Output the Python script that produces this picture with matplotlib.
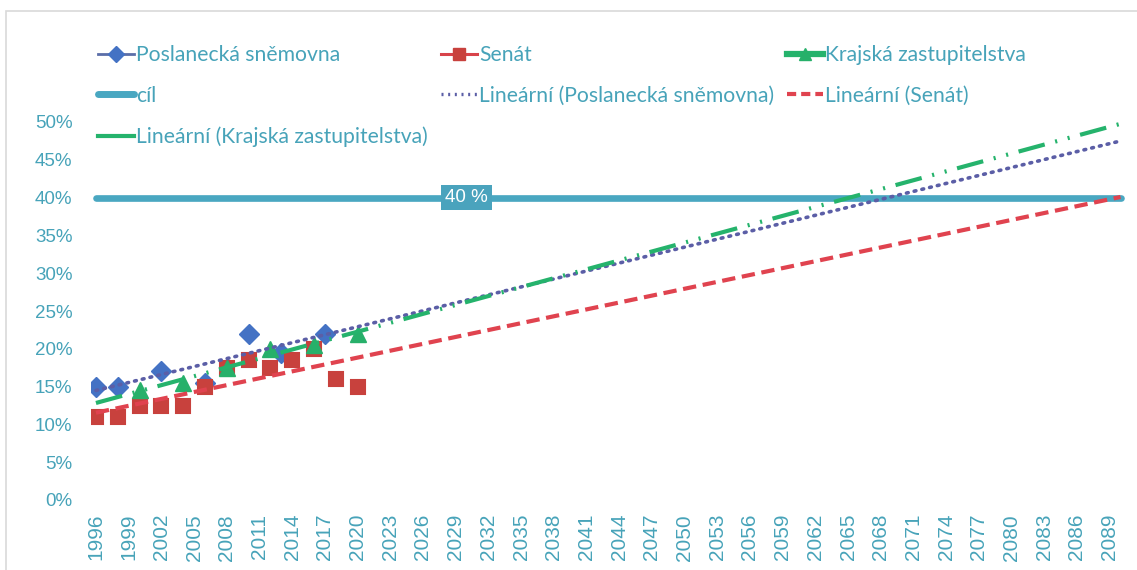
import matplotlib.pyplot as plt
import numpy as np
from matplotlib.lines import Line2D
from matplotlib.patches import Rectangle
from matplotlib.ticker import PercentFormatter

# podíl žen ve volených orgánech (v %)
roky_ps = [1996, 1998, 2002, 2006, 2010, 2013, 2017]
ps = [15, 15, 17, 15.5, 22, 19.5, 22]

roky_senat = [1996, 1998, 2000, 2002, 2004, 2006, 2008, 2010, 2012, 2014, 2016, 2018, 2020]
senat = [11, 11, 12.5, 12.5, 12.5, 15, 17.5, 18.5, 17.5, 18.5, 20, 16, 15]

roky_kraje = [2000, 2004, 2008, 2012, 2016, 2020]
kraje = [14.5, 15.5, 17.5, 20, 20.5, 22]

cil = 40
rok_od, rok_do = 1996, 2090
popisky_let = list(range(1996, 2090, 3))

TEAL_TEXT = '#47a3b9'

fig = plt.figure(figsize=(11.37, 5.70), dpi=100)
ax = fig.add_axes([90.5 / 1137, 70 / 570, 1035.5 / 1137, 378 / 570])

# rámeček grafu
fig.patches.append(Rectangle((6 / 1137, -0.1), 1.2, (570 - 11) / 570 + 0.1,
                             transform=fig.transFigure, fill=False,
                             edgecolor='#d9d9d9', linewidth=1.2))

roky = np.arange(rok_od, rok_do + 1)

# cíl 40 %
ax.plot([rok_od, rok_do], [cil, cil], color='#49a7c1', lw=4.8,
        solid_capstyle='round', zorder=2)
ax.text(2030, cil, '40 %', color='white', fontsize=13.5, ha='center', va='center',
        family='Liberation Sans', zorder=6,
        bbox=dict(boxstyle='square,pad=0.22', fc='#4aa3bd', ec='none'))

# lineární trendy
def trend(x, y):
    k, q = np.polyfit(x, y, 1)
    return k * roky + q

ax.plot(roky, trend(roky_ps, ps), color='#5b5ea6', lw=2.6,
        linestyle=(0, (0.5, 1.7)), dash_capstyle='round', zorder=4)
ax.plot(roky, trend(roky_senat, senat), color='#e0434f', lw=3,
        linestyle=(0, (3.2, 1.6)), zorder=4)
ax.plot(roky, trend(roky_kraje, kraje), color='#25b36c', lw=3,
        linestyle=(0, (6.5, 2.6, 0.5, 2.6, 0.5, 2.6)), zorder=4)

# body
ax.plot(roky_ps, ps, linestyle='none', marker='D', ms=10, color='#4472c4', zorder=3)
ax.plot(roky_senat, senat, linestyle='none', marker='s', ms=10.5, color='#c8413d',
        mec='#c8413d', mew=1.5, zorder=3)
ax.plot(roky_kraje, kraje, linestyle='none', marker='^', ms=11.5, color='#27b06a', zorder=3)

ax.set_xlim(rok_od - 0.5, rok_do + 0.5)
ax.set_ylim(0, 50)
ax.set_yticks(range(0, 51, 5))
ax.yaxis.set_major_formatter(PercentFormatter(decimals=0))
ax.set_xticks(popisky_let)
ax.set_xticklabels([str(r) for r in popisky_let], rotation=90)
ax.tick_params(axis='both', length=0, colors=TEAL_TEXT)
ax.tick_params(axis='y', pad=13, labelsize=13.5)
ax.tick_params(axis='x', pad=10, labelsize=15)
for lab in ax.get_xticklabels() + ax.get_yticklabels():
    lab.set_family('Liberation Sans')
for s in ax.spines.values():
    s.set_visible(False)

# legenda
h_ps = Line2D([], [], color='#5b6ea8', lw=2, marker='D', ms=8, mfc='#4472c4', mec='#4472c4')
h_cil = Line2D([], [], color='#49a7c1', lw=5, solid_capstyle='round')
h_lkr = Line2D([], [], color='#25b36c', lw=3)
h_sen = Line2D([], [], color='#d8434a', lw=2.2, marker='s', ms=9, mfc='#c8413d', mec='#c8413d')
h_lps = Line2D([], [], color='#5b5ea6', lw=2.4, linestyle=(0, (0.6, 1.4)))
h_kr = Line2D([], [], color='#25b36c', lw=4.5, marker='^', ms=9, mfc='#27b06a', mec='#27b06a')
h_lsen = Line2D([], [], color='#e0434f', lw=3, linestyle=(0, (2.2, 1.2)))

leg = fig.legend([h_ps, h_cil, h_lkr, h_sen, h_lps, h_kr, h_lsen],
                 ['Poslanecká sněmovna', 'cíl', 'Lineární (Krajská zastupitelstva)',
                  'Senát', 'Lineární (Poslanecká sněmovna)',
                  'Krajská zastupitelstva', 'Lineární (Senát)'],
                 ncol=3, loc='upper left', bbox_to_anchor=(98 / 1137, 1 - 45 / 570),
                 frameon=False, borderpad=0, borderaxespad=0, handlelength=1.7,
                 handletextpad=0.12, columnspacing=0.6, labelspacing=0.98,
                 prop={'family': 'Lato', 'size': 15.2})
for t in leg.get_texts():
    t.set_color(TEAL_TEXT)

fig.savefig('out.png', dpi=100)
